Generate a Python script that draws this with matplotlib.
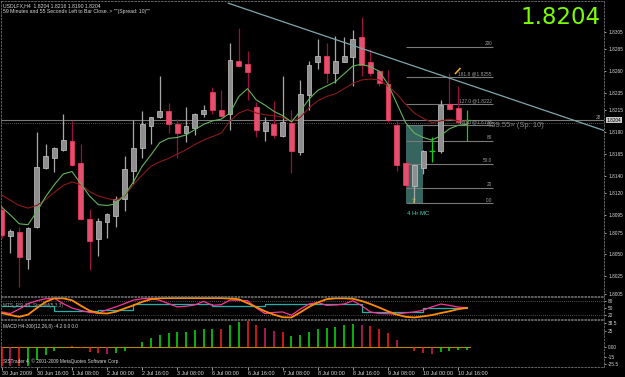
import matplotlib
matplotlib.use("Agg")
import matplotlib.pyplot as plt

W, H = 625, 377
plt.rcParams["font.family"] = ["Liberation Sans", "DejaVu Sans"]

# H4 bars, bar 0 = 30 Jun 2009 00:00
opens = [1.8101, 1.8071, 1.8076, 1.8045, 1.8081, 1.8149, 1.8160, 1.8170, 1.8180, 1.8155,
         1.8090, 1.8067, 1.8087, 1.8094, 1.8113, 1.8146, 1.8172, 1.8197, 1.8207, 1.8214,
         1.8200, 1.8189, 1.8195, 1.8211, 1.8236, 1.8216, 1.8211, 1.8272, 1.8268, 1.8219,
         1.8191, 1.8200, 1.8186, 1.8201, 1.8167, 1.8233, 1.8270, 1.8277, 1.8258, 1.8271,
         1.8276, 1.8299, 1.8271, 1.8260, 1.8245, 1.8198, 1.8155, 1.8128, 1.8149, 1.8169,
         1.8169, 1.8222, 1.8218, 1.8204]
highs = [1.8105, 1.8079, 1.8081, 1.8081, 1.8190, 1.8176, 1.8173, 1.8211, 1.8203, 1.8176,
         1.8102, 1.8092, 1.8097, 1.8117, 1.8163, 1.8204, 1.8214, 1.8208, 1.8255, 1.8224,
         1.8205, 1.8219, 1.8212, 1.8221, 1.8242, 1.8238, 1.8292, 1.8309, 1.8283, 1.8225,
         1.8207, 1.8226, 1.8255, 1.8216, 1.8250, 1.8272, 1.8297, 1.8292, 1.8300, 1.8299,
         1.8307, 1.8322, 1.8286, 1.8261, 1.8261, 1.8203, 1.8156, 1.8153, 1.8170, 1.8184,
         1.8227, 1.8258, 1.8243, 1.8216]
lows = [1.8069, 1.8052, 1.8013, 1.8033, 1.8080, 1.8148, 1.8144, 1.8168, 1.8151, 1.8089,
        1.8032, 1.8048, 1.8069, 1.8081, 1.8100, 1.8131, 1.8160, 1.8177, 1.8206, 1.8189,
        1.8161, 1.8179, 1.8187, 1.8207, 1.8211, 1.8208, 1.8193, 1.8265, 1.8227, 1.8185,
        1.8180, 1.8183, 1.8185, 1.8143, 1.8164, 1.8215, 1.8263, 1.8247, 1.8247, 1.8270,
        1.8243, 1.8255, 1.8255, 1.8243, 1.8202, 1.8146, 1.8127, 1.8110, 1.8142, 1.8156,
        1.8166, 1.8216, 1.8202, 1.8180]
closes = [1.8072, 1.8077, 1.8047, 1.8080, 1.8150, 1.8163, 1.8172, 1.8181, 1.8153, 1.8090,
          1.8065, 1.8088, 1.8096, 1.8114, 1.8148, 1.8172, 1.8199, 1.8207, 1.8214, 1.8199,
          1.8189, 1.8197, 1.8211, 1.8216, 1.8216, 1.8209, 1.8273, 1.8266, 1.8259, 1.8192,
          1.8202, 1.8187, 1.8202, 1.8168, 1.8234, 1.8267, 1.8278, 1.8258, 1.8272, 1.8278,
          1.8297, 1.8267, 1.8258, 1.8246, 1.8204, 1.8153, 1.8129, 1.8152, 1.8169, 1.8169,
          1.8221, 1.8217, 1.8202, 1.8204]
ma_fast = [1.8104, 1.8095, 1.8085, 1.8084, 1.8099, 1.8116, 1.8130, 1.8142, 1.8145, 1.8131,
           1.8117, 1.8107, 1.8106, 1.8108, 1.8118, 1.8133, 1.8151, 1.8164, 1.8178, 1.8183,
           1.8184, 1.8187, 1.8193, 1.8199, 1.8203, 1.8205, 1.8212, 1.8231, 1.8240, 1.8227,
           1.8221, 1.8214, 1.8209, 1.8202, 1.8214, 1.8228, 1.8238, 1.8243, 1.8248, 1.8257,
           1.8266, 1.8268, 1.8265, 1.8260, 1.8245, 1.8223, 1.8201, 1.8189, 1.8184, 1.8181,
           1.8186, 1.8194, 1.8198, 1.8199]
ma_slow = [1.8118, 1.8112, 1.8106, 1.8103, 1.8106, 1.8113, 1.8121, 1.8129, 1.8133, 1.8130,
           1.8122, 1.8117, 1.8114, 1.8112, 1.8117, 1.8130, 1.8141, 1.8151, 1.8156, 1.8160,
           1.8165, 1.8170, 1.8176, 1.8181, 1.8185, 1.8189, 1.8203, 1.8212, 1.8216, 1.8212,
           1.8210, 1.8209, 1.8207, 1.8202, 1.8207, 1.8218, 1.8226, 1.8231, 1.8234, 1.8240,
           1.8246, 1.8250, 1.8251, 1.8250, 1.8243, 1.8234, 1.8222, 1.8212, 1.8206, 1.8201,
           1.8203, 1.8205, 1.8203, 1.8203]

macd_hist = [-30, -30, -30, -29, -19.5, -11.6, -5.3, -0.5, 1.6, -1.6,
             -7.9, -8.9, -10.5, -9.5, -5.3, 0.5, 7.9, 14.2, 19.5, 22.6,
             24.7, 24.7, 26.3, 28.9, 28.9, 28.9, 35.3, 39.5, 40.5, 35.3,
             30.0, 25.8, 23.7, 17.4, 19.5, 24.7, 28.9, 30.0, 31.6, 34.2,
             35.8, 34.2, 32.6, 28.9, 22.6, 12.1, 0.3, -5.3, -8.9, -11.0,
             -7.9, -5.3, -4.7, -4.2]
# g = rising, r = falling, m = falling (second shade)
macd_kind = "rmrgggggrr" "rrmggggggg" "gggggrggrr" "mmrggggggg" "gmrrrmrrrm" "gggg"

stoch_orange = [27, 18, 10, 20, 50, 78, 94, 94, 85, 61, 38, 27, 25, 33, 48, 62, 78, 90, 94, 95,
                95, 95, 95, 95, 95, 95, 93, 90, 72, 54, 35, 20, 8, 7, 30, 55, 75, 90, 94, 94,
                92, 82, 68, 52, 35, 20, 10, 7, 12, 18, 27, 35, 45, 51]
stoch_pink = [32, 25, 45, 70, 83, 92, 94, 70, 50, 39, 30, 27, 42, 55, 70, 86, 92, 94, 85, 70,
              55, 58, 64, 80, 62, 65, 86, 85, 83, 50, 25, 30, 32, 17, 45, 68, 75, 62, 64, 68,
              83, 60, 32, 25, 24, 22, 28, 32, 40, 55, 68, 62, 54, 51]
stoch_cyan = [61, 61, 61, 61, 61, 61, 36, 36, 36, 36, 36, 39, 39, 39, 39, 68, 68, 68, 68, 68,
              68, 68, 68, 68, 61, 61, 61, 61, 61, 61, 68, 68, 68, 68, 68, 68, 68, 68, 68, 68,
              68, 32, 32, 32, 32, 32, 32, 32, 50, 50, 50, 50, 50, 51]

time_labels = ["30 Jun 2009", "30 Jun 16:00", "1 Jul 08:00", "2 Jul 00:00", "2 Jul 16:00",
               "3 Jul 08:00", "6 Jul 00:00", "6 Jul 16:00", "7 Jul 08:00", "8 Jul 00:00",
               "8 Jul 16:00", "9 Jul 08:00", "10 Jul 00:00", "10 Jul 16:00"]
price_ticks = [1.8305, 1.8285, 1.8260, 1.8235, 1.8215, 1.8190, 1.8165, 1.8140, 1.8120,
               1.8095, 1.8075, 1.8050, 1.8025, 1.8005]
last_price = 1.8204

fib_levels = [0, 20, 50, 80, 100, 127, 161.8, 200]
fib_labels = ["0.0", "20", "50.0", "80", "100.0 @1.8198", "127.0 @1.8222", "161.8 @1.8255", "200"]
fib_low, fib_high = 1.81083, 1.8198

trend_x = [25.8, 68.6]
trend_y = [1.8338, 1.8192]

FG = "#d8d8d8"
BULL_FACE, BULL_EDGE, BULL_WICK = "#8e8e8e", "#c8c8c8", "#a8a8a8"
BEAR_FACE, BEAR_EDGE, BEAR_WICK = "#e2506e", "#ff3a66", "#9a0f45"
DOJI = "#10d010"
MACD_COLORS = {"g": "#10e010", "r": "#ff2020", "m": "#d0206a"}
SMALL = 3.4


def fx(px):
    return px / W


def fy(py):
    return 1 - py / H


def bar_x(px):
    return (px - 1.7) / 8.78


def main():
    fig = plt.figure(figsize=(W / 100, H / 100), dpi=100, facecolor="black")
    x0, x1 = bar_x(1), bar_x(604)

    ax = fig.add_axes([fx(1), fy(296), fx(604) - fx(1), fy(1) - fy(296)], facecolor="black")
    ax_st = fig.add_axes([fx(1), fy(319), fx(604) - fx(1), fy(297) - fy(319)], facecolor="black")
    ax_md = fig.add_axes([fx(1), fy(367), fx(604) - fx(1), fy(320) - fy(367)], facecolor="black")

    for a in (ax, ax_st, ax_md):
        a.set_xlim(x0, x1)
        for spine in a.spines.values():
            spine.set_color("#707070")
            spine.set_linewidth(0.6)
            spine.set_linestyle((0, (2, 2)))
        a.tick_params(axis="x", bottom=False, labelbottom=False)
        a.yaxis.tick_right()
        a.tick_params(axis="y", colors=FG, labelsize=SMALL, length=1.5, width=0.5, pad=1.5,
                      left=False)

    _draw_price(ax)
    _draw_stoch(ax_st)
    _draw_macd(ax_md)

    ax_md.set_xticks(range(0, 4 * len(time_labels), 4))
    ax_md.set_xticklabels(time_labels, ha="left")
    ax_md.tick_params(axis="x", bottom=True, labelbottom=True, colors=FG, labelsize=3.9,
                      length=2, width=0.5, pad=1)

    fig.text(fx(3), fy(5.5), "USDLFX,H4  1.8204 1.8216 1.8190 1.8204", color=FG,
             fontsize=3.7, va="center", ha="left")
    fig.text(fx(3), fy(11), '59 Minutes and 55 Seconds Left to Bar Close. > ""(Spread: 10)"" ',
             color=FG, fontsize=3.7, va="center", ha="left")
    fig.text(fx(600), fy(18), "1.8204", color="#7cfc00", fontsize=16.5, va="center",
             ha="right", family="DejaVu Sans")

    fig.savefig("out.png", dpi=100, facecolor="black")


def _draw_price(ax):
    n = len(closes)
    xs = list(range(n))
    ax.set_ylim(1.80022, 1.83405)
    ax.set_yticks(price_ticks)
    ax.set_yticklabels([f"{p:.4f}" for p in price_ticks])

    # MC box under the candles
    ax.add_patch(plt.Rectangle((bar_x(406), fib_low), bar_x(423.3) - bar_x(406),
                               1.8198 - fib_low, facecolor="#36645f", edgecolor="none",
                               zorder=1))

    ax.axhline(last_price, color="#7a7a7a", lw=0.8, zorder=1)
    ax.axhline(1.82005, color="#7a7a7a", lw=0.6, ls=(0, (1, 1.5)), zorder=1)

    for i in xs:
        o, h, l, c = opens[i], highs[i], lows[i], closes[i]
        if abs(c - o) < 0.00005:
            ax.vlines(i, l, h, color=DOJI, lw=0.9, zorder=4)
            ax.hlines(c, i - 0.35, i + 0.35, color=DOJI, lw=0.9, zorder=4)
            continue
        bull = c > o
        ax.vlines(i, l, h, color=BULL_WICK if bull else BEAR_WICK, lw=0.9, zorder=3)
        ax.bar(i, abs(c - o), bottom=min(o, c), width=0.55,
               color=BULL_FACE if bull else BEAR_FACE,
               edgecolor=BULL_EDGE if bull else BEAR_EDGE, linewidth=0.5, zorder=4)

    ax.plot(xs, ma_slow, color="#8b1a1a", lw=0.8, zorder=5)
    ax.plot(xs, ma_fast, color="#63b45a", lw=0.8, zorder=5)
    ax.plot(trend_x, trend_y, color="#7fa7ad", lw=0.9, zorder=6)

    span = fib_high - fib_low
    for lvl, lab in zip(fib_levels, fib_labels):
        y = fib_low + lvl / 100 * span
        ax.hlines(y, bar_x(406), bar_x(492.7), color="#7a7a7a", lw=0.8, zorder=2)
        ax.text(bar_x(492), y + 0.0001, lab, color="#a0a0a0", fontsize=SMALL,
                ha="right", va="bottom", zorder=6)

    ax.text(bar_x(418), 1.80964, "4 Hr MC", color="#3fd8b8", fontsize=4.3,
            ha="center", va="center", zorder=6)
    ax.text(bar_x(414), 1.81115, "\u21e7", color="#d8c040", fontsize=5,
            ha="center", va="center", family="DejaVu Sans", zorder=7)
    ax.plot([bar_x(455.5), bar_x(460)], [1.82575, 1.8263], color="#f0a020", lw=1.2, zorder=7)
    ax.text(bar_x(487), 1.81977, "459.55\u00bb (Sp: 10)", color="#8a8a8a", fontsize=5.5,
            ha="left", va="center", zorder=6)
    ax.text(bar_x(601), last_price, "28", color="#9a9a9a", fontsize=SMALL,
            ha="right", va="bottom", zorder=6)
    ax.text(1.005, last_price, "1.8204", transform=ax.get_yaxis_transform(), color="black",
            fontsize=SMALL, ha="left", va="center", zorder=8, clip_on=False,
            bbox=dict(boxstyle="square,pad=0.15", facecolor="#c8c8c8", edgecolor="none"))


def _draw_stoch(ax):
    xs = list(range(len(stoch_orange)))
    ax.set_ylim(0, 100)
    ax.set_yticks([80, 50, 20])
    ax.set_yticklabels(["80", "50", "20"])
    for lvl in (80, 20):
        ax.axhline(lvl, color="#9a9a9a", lw=0.5, ls=(0, (1, 2)))
    ax.step(xs, stoch_cyan, where="post", color="#20b2aa", lw=0.9)
    ax.plot(xs, stoch_orange, color="#c0392b", lw=0.5, ls=(0, (1, 1)))
    ax.plot(xs, stoch_pink, color="#ff3399", lw=0.9)
    ax.plot(xs, stoch_orange, color="#ff8c00", lw=1.3)
    ax.text(0.004, 0.6, "MTS_RSI 14  StochM(5,3,3)", transform=ax.transAxes, color="#a0a0a0",
            fontsize=SMALL, ha="left", va="center")


def _draw_macd(ax):
    xs = list(range(len(macd_hist)))
    ax.set_ylim(-30.8, 42.7)
    ax.set_yticks([38.5, 25, 0, -15, -25.5])
    ax.set_yticklabels(["38.5", "25", "0.00", "-15", "-25.5"])
    ax.axhline(0, color="#b8860b", lw=0.8, xmax=(bar_x(470) - bar_x(1)) / (bar_x(604) - bar_x(1)))
    ax.vlines(xs, 0, macd_hist, colors=[MACD_COLORS[k] for k in macd_kind], lw=1.1)
    ax.text(0.004, 0.86, "MACD H4-300(12,26,8) -4.2 0.0 0.0", transform=ax.transAxes,
            color=FG, fontsize=SMALL, ha="left", va="center")
    ax.text(0.004, 0.12, "SISTrader 4, \u00a9 2001-2009 MetaQuotes Software Corp.",
            transform=ax.transAxes, color=FG, fontsize=SMALL, ha="left", va="center")


if __name__ == "__main__":
    main()
